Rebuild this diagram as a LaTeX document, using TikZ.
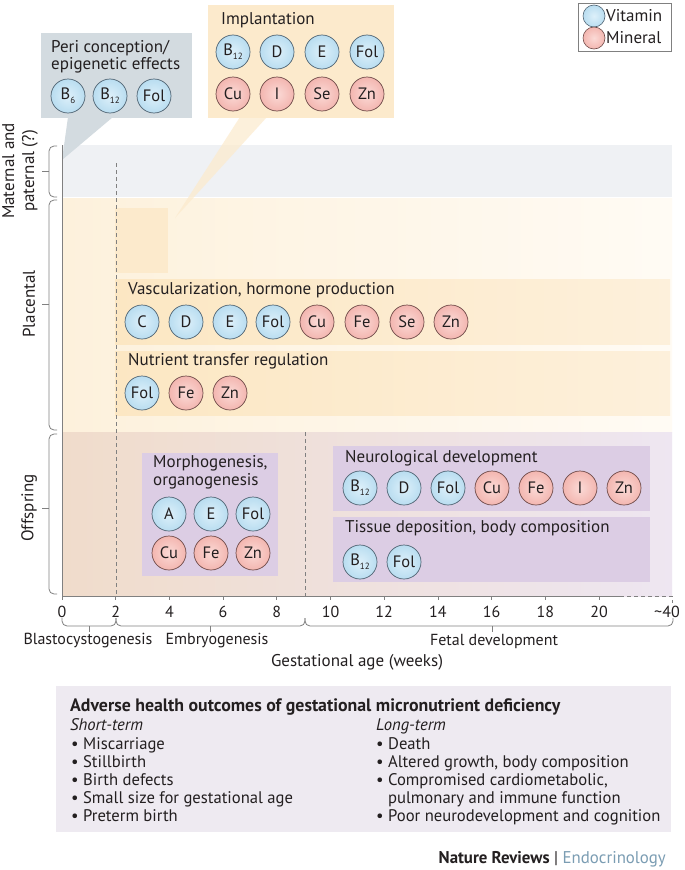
\documentclass[tikz,border=0pt]{standalone}
\usepackage{fontspec}
\setmainfont{PT Sans}
\newfontfamily\condfont[FakeStretch=0.99]{PT Sans}
\newcommand\fsz[2]{\fontsize{#1}{#2}\selectfont}
\newcommand\sbs[1]{\raisebox{-0.5ex}{\fsz{9}{9}#1}}
\definecolor{txt}{HTML}{231F20}
\definecolor{vitfill}{HTML}{B9DDF0}
\definecolor{vitin}{HTML}{DDF0FA}
\definecolor{vitdraw}{HTML}{4F6372}
\definecolor{minfill}{HTML}{F3B6B0}
\definecolor{minin}{HTML}{FBDAD6}
\definecolor{mindraw}{HTML}{6E4A48}
\definecolor{periC}{HTML}{D3DBE0}
\definecolor{implC}{HTML}{FCEACC}
\definecolor{matC}{HTML}{EFF1F4}
\definecolor{purpC}{HTML}{DCCDE4}
\definecolor{axisC}{HTML}{808080}
\definecolor{botC}{HTML}{EEEAF1}
\definecolor{endoC}{HTML}{7B9DB3}
\definecolor{plL}{HTML}{FDF1DC}
\definecolor{plR}{HTML}{FFFBF4}
\definecolor{boxL}{HTML}{FCE7C3}
\definecolor{boxR}{HTML}{FDF0DB}
\definecolor{offL}{HTML}{F0DCCB}
\definecolor{offR}{HTML}{EEE6F1}
\begin{document}
\begin{tikzpicture}[x=1pt,y=-1pt,
  every node/.style={text=txt},
  vit/.style={circle, draw=vitdraw, line width=0.7pt, inner color=vitin, outer color=vitfill, minimum size=34pt, inner sep=0pt, font=\fsz{16.5}{17}},
  mnr/.style={circle, draw=mindraw, line width=0.7pt, inner color=minin, outer color=minfill, minimum size=34pt, inner sep=0pt, font=\fsz{16.5}{17}},
  lbl/.style={anchor=west, inner sep=0pt, font=\fsz{17}{19}},
  rect/.style={anchor=north west, inner sep=0pt, draw=none},
  axisline/.style={draw=axisC, line width=0.8pt},
  dline/.style={draw=axisC, line width=0.7pt, dash pattern=on 4pt off 3pt},
  brk/.style={draw=axisC, line width=0.8pt, rounded corners=5pt},
  tick/.style={font=\fsz{16}{17}, inner sep=0pt},
  bot/.style={anchor=base west, inner sep=0pt, font=\condfont\fsz{16.8}{18}},
]
\useasboundingbox (0,0) rectangle (685,870);
\fill[white] (0,0) rectangle (685,870);

% row backgrounds
\node[rect, fill=matC, minimum width=610, minimum height=52] (matband) at (62,145) {};
\node[rect, left color=plL, right color=plR, minimum width=610, minimum height=234] (plbg) at (62,198) {};
\node[rect, left color=offL, right color=offR, minimum width=610, minimum height=164] (offbg) at (62,432) {};

% placental boxes
\node[rect, fill=implC, minimum width=53, minimum height=65] (implsmall) at (115,208) {};
\node[rect, left color=boxL, right color=boxR, minimum width=555, minimum height=65] (vascbox) at (115,279) {};
\node[rect, left color=boxL, right color=boxR, minimum width=555, minimum height=64] (nutrbox) at (115,351) {};

% offspring boxes
\node[rect, fill=purpC, minimum width=136, minimum height=123] (morphbox) at (142,453) {};
\node[rect, fill=purpC, minimum width=317, minimum height=65] (neurobox) at (333,446) {};
\node[rect, fill=purpC, minimum width=317, minimum height=65] (tissbox) at (333,517) {};

% callout pointers
\coordinate (peritip) at (62,160);
\coordinate (impltip) at (175,218);
\fill[periC] (68,117) -- (113,117) -- (peritip) -- cycle;
\fill[implC, opacity=0.7] (240,117) -- (267,117) -- (impltip) -- cycle;

% callout boxes
\node[rect, fill=periC, minimum width=151, minimum height=85] (peribox) at (41,33) {};
\node[rect, fill=implC, minimum width=186, minimum height=113] (implbox) at (208,5) {};

% legend
\node[rect, draw=axisC, line width=0.6pt, fill=white, minimum width=93, minimum height=48] (legbox) at (578,3) {};
\node[circle, draw=vitdraw, line width=0.6pt, inner color=vitin, outer color=vitfill, minimum size=22pt, inner sep=0pt] (legv) at (594,16) {};
\node[circle, draw=mindraw, line width=0.6pt, inner color=minin, outer color=minfill, minimum size=22pt, inner sep=0pt] (legm) at (594,38) {};
\node[lbl] (legvt) at (606,16) {Vitamin};
\node[lbl] (legmt) at (606,38) {Mineral};

% dashed period lines
\draw[dline] (116,163) -- (116,596);
\draw[dline] (305,432) -- (305,596);

% texts
\node[lbl] (perit1) at (51,48) {Peri conception/};
\node[lbl] (perit2) at (51,65) {epigenetic effects};
\node[lbl] (implt) at (221,20) {Implantation};
\node[lbl] (vasct) at (128,290) {Vascularization, hormone production};
\node[lbl] (nutrt) at (128,361) {Nutrient transfer regulation};
\node[lbl] (morpht1) at (153,463) {Morphogenesis,};
\node[lbl] (morpht2) at (153,481) {organogenesis};
\node[lbl] (neurot) at (345,458) {Neurological development};
\node[lbl] (tisst) at (345,528) {Tissue deposition, body composition};

% peri circles
\node[vit] (p1) at (68,96) {B\sbs{6}};
\node[vit] (p2) at (110,96) {B\sbs{12}};
\node[vit] (p3) at (154,96) {Fol};
% implantation circles
\node[vit] (i1) at (233,52) {B\sbs{12}};
\node[vit] (i2) at (277,52) {D};
\node[vit] (i3) at (322,52) {E};
\node[vit] (i4) at (367,52) {Fol};
\node[mnr] (i5) at (233,94) {Cu};
\node[mnr] (i6) at (277,94) {I};
\node[mnr] (i7) at (322,94) {Se};
\node[mnr] (i8) at (367,94) {Zn};
% vascularization
\node[vit] (v1) at (142,322) {C};
\node[vit] (v2) at (186,322) {D};
\node[vit] (v3) at (230,322) {E};
\node[vit] (v4) at (273,322) {Fol};
\node[mnr] (v5) at (317,322) {Cu};
\node[mnr] (v6) at (362,322) {Fe};
\node[mnr] (v7) at (407,322) {Se};
\node[mnr] (v8) at (451,322) {Zn};
% nutrient
\node[vit] (n1) at (142,393) {Fol};
\node[mnr] (n2) at (186,393) {Fe};
\node[mnr] (n3) at (230,393) {Zn};
% morphogenesis
\node[vit] (m1) at (169,514) {A};
\node[vit] (m2) at (211,514) {E};
\node[vit] (m3) at (253,514) {Fol};
\node[mnr] (m4) at (169,553) {Cu};
\node[mnr] (m5) at (211,553) {Fe};
\node[mnr] (m6) at (253,553) {Zn};
% neurological
\node[vit] (e1) at (360,488) {B\sbs{12}};
\node[vit] (e2) at (404,488) {D};
\node[vit] (e3) at (448,488) {Fol};
\node[mnr] (e4) at (492,488) {Cu};
\node[mnr] (e5) at (536,488) {Fe};
\node[mnr] (e6) at (580,488) {I};
\node[mnr] (e7) at (624,488) {Zn};
% tissue
\node[vit] (t1) at (360,562) {B\sbs{12}};
\node[vit] (t2) at (404,562) {Fol};

% left axis and braces
\draw[axisline] (62,145) -- (62,596);
\draw[brk] (57,146) -- (49,146) -- (49,197) -- (57,197);
\draw[axisline] (49,171) -- (42,171);
\draw[brk] (57,200) -- (49,200) -- (49,430) -- (57,430);
\draw[axisline] (49,304) -- (42,304);
\draw[brk] (57,434) -- (49,434) -- (49,594) -- (57,594);
\draw[axisline] (49,508) -- (42,508);
\node[rotate=90, align=center, inner sep=0pt, font=\fsz{17}{20}] (matlbl) at (20,171) {Maternal and\\paternal (?)};
\node[rotate=90, inner sep=0pt, font=\fsz{17}{20}] (plalbl) at (29,304) {Placental};
\node[rotate=90, inner sep=0pt, font=\fsz{17}{20}] (offlbl) at (29,508) {Offspring};

% x axis
\draw[axisline] (62,596) -- (620,596);
\draw[axisline, dash pattern=on 4pt off 3pt] (620,596) -- (672,596) -- (672,603);
\foreach \k in {0,2,...,20} {
  \draw[axisline] ({62+26.85*\k},596) -- ({62+26.85*\k},600);
  \node[tick] (tk\k) at ({62+26.85*\k},612) {\k};
}
\node[tick] (tk40) at (667,612) {\textasciitilde 40};

% bottom braces
\draw[brk] (62,618) -- (62,626) -- (116,626) -- (116,618);
\draw[axisline] (89,626) -- (89,632);
\draw[brk] (116,618) -- (116,626) -- (305,626) -- (305,618);
\draw[axisline] (210,626) -- (210,632);
\draw[brk] (305,618) -- (305,626) -- (673,626) -- (673,618);
\draw[axisline] (492,626) -- (492,632);
\node[tick, font=\fsz{16}{18}] (blast) at (88,641) {Blastocystogenesis};
\node[tick, font=\fsz{16}{18}] (embry) at (217,641) {Embryogenesis};
\node[tick, font=\fsz{16}{18}] (fetal) at (494,641) {Fetal development};
\node[tick, font=\fsz{17}{18}] (gest) at (357,662) {Gestational age (weeks)};

% bottom box
\node[rect, fill=botC, minimum width=615, minimum height=146] (botbox) at (56,686) {};
\node[bot, font=\condfont\bfseries\fsz{18}{18}] (bottitle) at (70,711) {Adverse health outcomes of gestational micronutrient deficiency};
\node[bot] (shortt) at (70,730) {\itshape Short-term};
\node[bot] (s1) at (71,749) {\textbullet\ Miscarriage};
\node[bot] (s2) at (71,767) {\textbullet\ Stillbirth};
\node[bot] (s3) at (71,785) {\textbullet\ Birth defects};
\node[bot] (s4) at (71,803) {\textbullet\ Small size for gestational age};
\node[bot] (s5) at (71,821) {\textbullet\ Preterm birth};
\node[bot] (longt) at (376,730) {\itshape Long-term};
\node[bot] (l1) at (376,749) {\textbullet\ Death};
\node[bot] (l2) at (376,767) {\textbullet\ Altered growth, body composition};
\node[bot] (l3) at (376,785) {\textbullet\ Compromised cardiometabolic,};
\node[bot] (l4) at (376,803) {\phantom{\textbullet\ }pulmonary and immune function};
\node[bot] (l5) at (376,821) {\textbullet\ Poor neurodevelopment and cognition};

\node[anchor=base east, inner sep=0pt, font=\condfont\fsz{17}{18}] (credit) at (666,863) {\textbf{Nature Reviews} | \textcolor{endoC}{Endocrinology}};
\end{tikzpicture}
\end{document}
